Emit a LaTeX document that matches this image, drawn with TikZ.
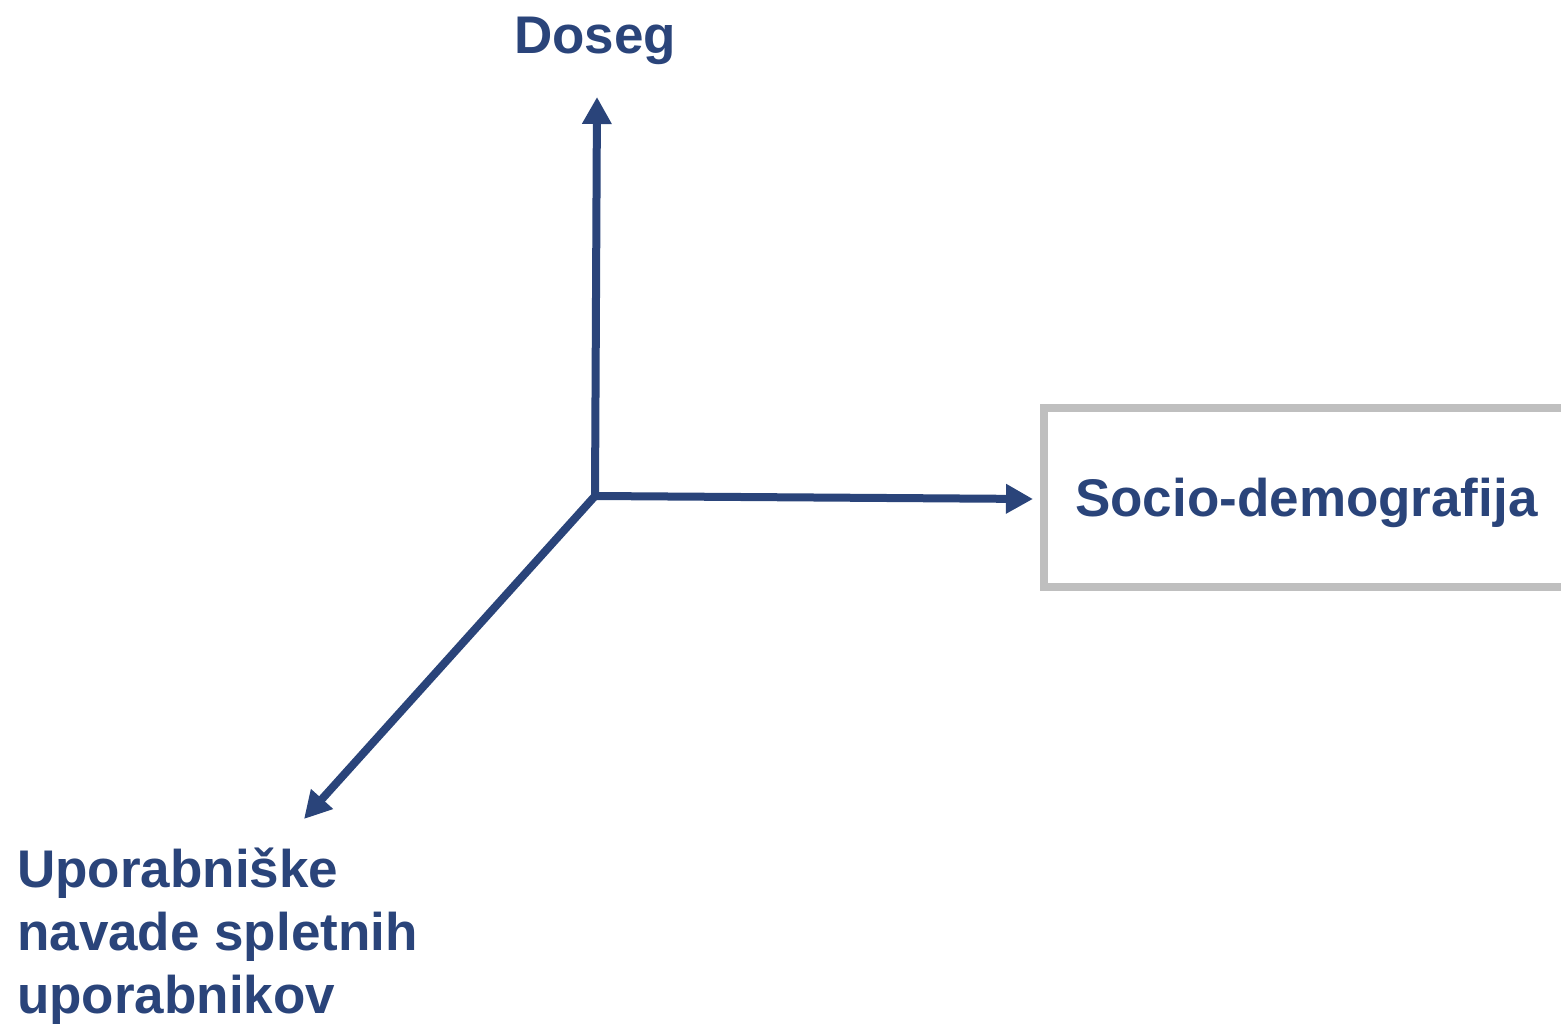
\documentclass[tikz,border=0pt]{standalone}
\usepackage{fontspec}
\setmainfont{Liberation Sans}
\usetikzlibrary{arrows.meta}
\definecolor{navy}{RGB}{42,68,122}
\definecolor{boxgray}{RGB}{191,191,191}
\tikzset{
  axis/.style={draw=navy, line width=8pt, -{Triangle[length=27pt,width=28pt]}},
  lbl/.style={text=navy, font=\bfseries\fontsize{53}{63}\selectfont, inner sep=0pt},
  framebox/.style={draw=boxgray, line width=8.5pt, inner sep=0pt, outer sep=0pt}
}
\begin{document}
\begin{tikzpicture}[x=1pt,y=-1pt]
\useasboundingbox (0,0) rectangle (1561,1024);
\clip (0,0) rectangle (1561,1024);
\coordinate (o) at (595,496);
\coordinate (uptip) at (597,97);
\coordinate (dltip) at (304,819);
\node[framebox, anchor=north west, minimum width=560pt, minimum height=179pt] (sdbox) at (1044,408) {};
\coordinate (rtip) at (1033,499);
\node[lbl, anchor=base west] (doseg) at (514,54) {Doseg};
\node[lbl, anchor=base west] (socio) at (1075,516) {Socio-demografija};
\node[lbl, anchor=base west, align=left] (upor) at (17,1013) {Uporabniške\\navade spletnih\\uporabnikov};
\draw[axis] (o) -- (uptip);
\draw[axis] (o) -- (rtip);
\draw[axis] (o) -- (dltip);
\end{tikzpicture}
\end{document}
